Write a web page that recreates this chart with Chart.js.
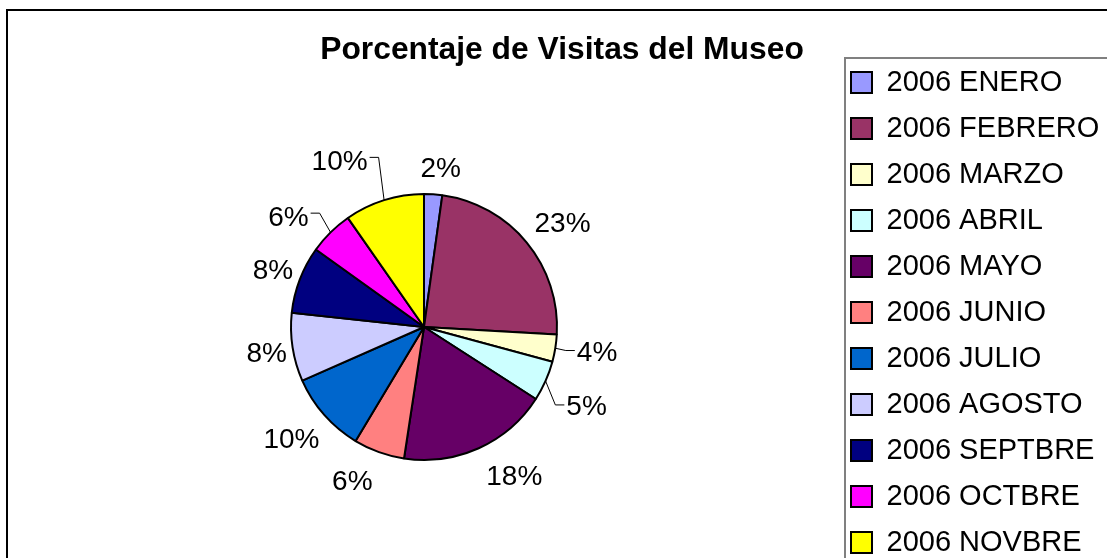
<!DOCTYPE html>
<html>
<head>
<meta charset="utf-8">
<script src="https://cdn.jsdelivr.net/npm/chart.js@4/dist/chart.umd.min.js"></script>
<style>
  html, body { margin: 0; padding: 0; background: #ffffff; }
  #wrap { width: 1107px; height: 558px; }
</style>
</head>
<body>
<div id="wrap"><canvas id="c" width="1107" height="558"></canvas></div>
<script>
// ---- data ----
const categories = ['2006 ENERO', '2006 FEBRERO', '2006 MARZO', '2006 ABRIL', '2006 MAYO', '2006 JUNIO',
                    '2006 JULIO', '2006 AGOSTO', '2006 SEPTBRE', '2006 OCTBRE', '2006 NOVBRE'];
const visitShare = [2.2, 23.7, 3.3, 4.9, 18.3, 6.2, 9.8, 8.3, 8.2, 5.4, 9.7];
const percentLabels = ['2%', '23%', '4%', '5%', '18%', '6%', '10%', '8%', '8%', '6%', '10%'];
const titleText = 'Porcentaje de Visitas del Museo';

// ---- styles ----
const sliceColors = ['#9999FF', '#993366', '#FFFFCC', '#CCFFFF', '#660066', '#FF8080',
                     '#0066CC', '#CCCCFF', '#000080', '#FF00FF', '#FFFF00'];
// label nudges [dx, dy, leaderLine]
const labelNudge = [[5, 0, false], [1, -3, false], [5, -2, true], [7, 13, true], [17, 2.5, false],
                    [-14, 2, false], [1, 5, false], [11, 0, false], [8, -1, false], [-16, 3, true], [-31, -14, true]];
const FONT = '"Liberation Sans", Arial, sans-serif';

const framePlugin = {
  id: 'frames',
  beforeDraw(chart) {
    const ctx = chart.ctx;
    ctx.save();
    ctx.fillStyle = '#ffffff';
    ctx.fillRect(0, 0, chart.width, chart.height);
    ctx.strokeStyle = '#000000';
    ctx.lineWidth = 2;
    ctx.strokeRect(7, 10, 1200, 700);
    ctx.strokeStyle = '#808080';
    ctx.lineWidth = 2;
    ctx.strokeRect(845, 58, 400, 600);
    ctx.restore();
  }
};

const layoutPlugin = {
  id: 'placeBoxes',
  afterLayout(chart) {
    const cx = 424, cy = 327, half = 150;
    chart.chartArea = {left: cx - half, top: cy - half, right: cx + half, bottom: cy + half,
                       width: 2 * half, height: 2 * half};
    const lg = chart.legend;
    if (lg) {
      const w = lg.width, h = lg.height;
      lg.left = 834; lg.top = 51; lg.right = lg.left + w; lg.bottom = lg.top + h;
    }
    const t = chart.titleBlock;
    if (t) { t.left = 17; t.right = 1107; }
  }
};

const labelPlugin = {
  id: 'pctLabels',
  afterDatasetsDraw(chart) {
    const ctx = chart.ctx;
    const meta = chart.getDatasetMeta(0);
    ctx.save();
    ctx.font = '28px ' + FONT;
    ctx.fillStyle = '#000000';
    ctx.textAlign = 'center';
    ctx.textBaseline = 'alphabetic';
    meta.data.forEach((arc, i) => {
      const p = arc.getProps(['x', 'y', 'startAngle', 'endAngle', 'outerRadius'], true);
      const mid = (p.startAngle + p.endAngle) / 2;
      const c = Math.cos(mid), s = Math.sin(mid);
      const txt = percentLabels[i];
      const w = ctx.measureText(txt).width;
      const n = labelNudge[i];
      const R = p.outerRadius;
      const lx = p.x + (R + 17) * c + (w / 2) * c + n[0];
      const ly = p.y + (R + 17) * s + 10 * s + n[1];
      ctx.fillText(txt, lx, ly + 10);
      if (n[2]) {
        const ex = p.x + R * c, ey = p.y + R * s;
        let endX, elbowX, lineY;
        if (c < 0) { endX = lx + w / 2 + 2; elbowX = lx + w / 2 + 11; lineY = ly - 3; }
        else { endX = lx - w / 2 - 2; elbowX = lx - w / 2 - 11; lineY = ly; }
        ctx.strokeStyle = '#000000';
        ctx.lineWidth = 1;
        ctx.beginPath();
        ctx.moveTo(ex, ey);
        ctx.lineTo(elbowX, lineY);
        ctx.lineTo(endX, lineY);
        ctx.stroke();
      }
    });
    ctx.restore();
  }
};

new Chart(document.getElementById('c'), {
  type: 'pie',
  data: {
    labels: categories,
    datasets: [{
      data: visitShare,
      backgroundColor: sliceColors,
      borderColor: '#000000',
      borderWidth: 2
    }]
  },
  options: {
    responsive: false,
    animation: false,
    events: [],
    radius: 133,
    layout: { padding: 0 },
    plugins: {
      title: {
        display: true,
        text: titleText,
        color: '#000000',
        font: { family: FONT, size: 31.8, weight: 'bold' },
        padding: { top: 31, bottom: 0 }
      },
      legend: {
        display: true,
        position: 'right',
        align: 'start',
        labels: {
          color: '#000000',
          font: { family: FONT, size: 29 },
          boxWidth: 21,
          boxHeight: 21,
          padding: 17
        }
      },
      tooltip: { enabled: false }
    }
  },
  plugins: [framePlugin, layoutPlugin, labelPlugin]
});
</script>
</body>
</html>
